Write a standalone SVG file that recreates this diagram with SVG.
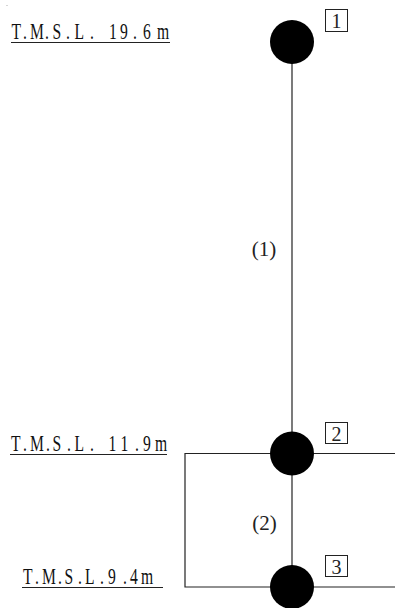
<svg xmlns="http://www.w3.org/2000/svg" width="395" height="608" viewBox="0 0 395 608">
<style>
.lvl{font-family:"Liberation Serif","Noto Sans CJK JP",serif;font-size:23px;fill:#111}
.ul{stroke:#222;stroke-width:1.2}
.num{font-family:"Liberation Serif","Noto Sans CJK JP",serif;font-size:20px;fill:#222;text-anchor:middle}
.box{fill:#fff;stroke:#222;stroke-width:1}
.lab{font-family:"Liberation Serif","Noto Sans CJK JP",serif;font-size:21px;fill:#222;text-anchor:middle}
.ln{fill:none;stroke:#222;stroke-width:1.2}
</style>
<rect width="395" height="608" fill="#fff"/>
<rect x="6.5" y="5" width="1" height="1" fill="#aaa"/>
<g id="levels">
<text class="lvl" transform="scale(0.68 1)" y="39" x="16.91 33.82 44.12 66.18 77.21 97.06 109.56 132.35 147.06 160.29 176.47 195.59 210.29 230.88">T.M.S.L. 19.6m</text>
<line class="ul" x1="11" y1="42.5" x2="170" y2="42.5"/>
<text class="lvl" transform="scale(0.68 1)" y="451" x="16.18 33.82 44.12 67.65 77.21 98.53 109.56 132.35 147.06 159.56 177.21 198.53 210.29 227.94">T.M.S.L. 11.9m</text>
<line class="ul" x1="10" y1="454.5" x2="167" y2="454.5"/>
<text class="lvl" transform="scale(0.68 1)" y="584" x="33.82 51.47 61.76 85.29 94.85 114.71 125 147.06 152.94 158.82 180.88 191.18 207.35">T.M.S.L. 9.4m</text>
<line class="ul" x1="22" y1="587.5" x2="163" y2="587.5"/>
</g>
<g id="connectors">
<line class="ln" x1="292" y1="42" x2="292" y2="587"/>
<polyline class="ln" points="395,453.5 185,453.5 185,587 395,587"/>
</g>
<g id="edge-labels">
<text class="lab" x="264" y="255.5">(1)</text>
<text class="lab" x="264.5" y="530">(2)</text>
</g>
<g id="node1">
<circle cx="292" cy="42" r="22" fill="#000"/>
<rect class="box" x="325.5" y="9.5" width="22" height="22"/>
<text class="num" x="336.5" y="28">1</text>
</g>
<g id="node2">
<circle cx="292" cy="453.5" r="22" fill="#000"/>
<rect class="box" x="325.5" y="422.5" width="22" height="21"/>
<text class="num" x="336.5" y="440.5">2</text>
</g>
<g id="node3">
<circle cx="292" cy="587" r="22" fill="#000"/>
<rect class="box" x="325.5" y="555.5" width="22" height="21"/>
<text class="num" x="336.5" y="573.5">3</text>
</g>
</svg>
